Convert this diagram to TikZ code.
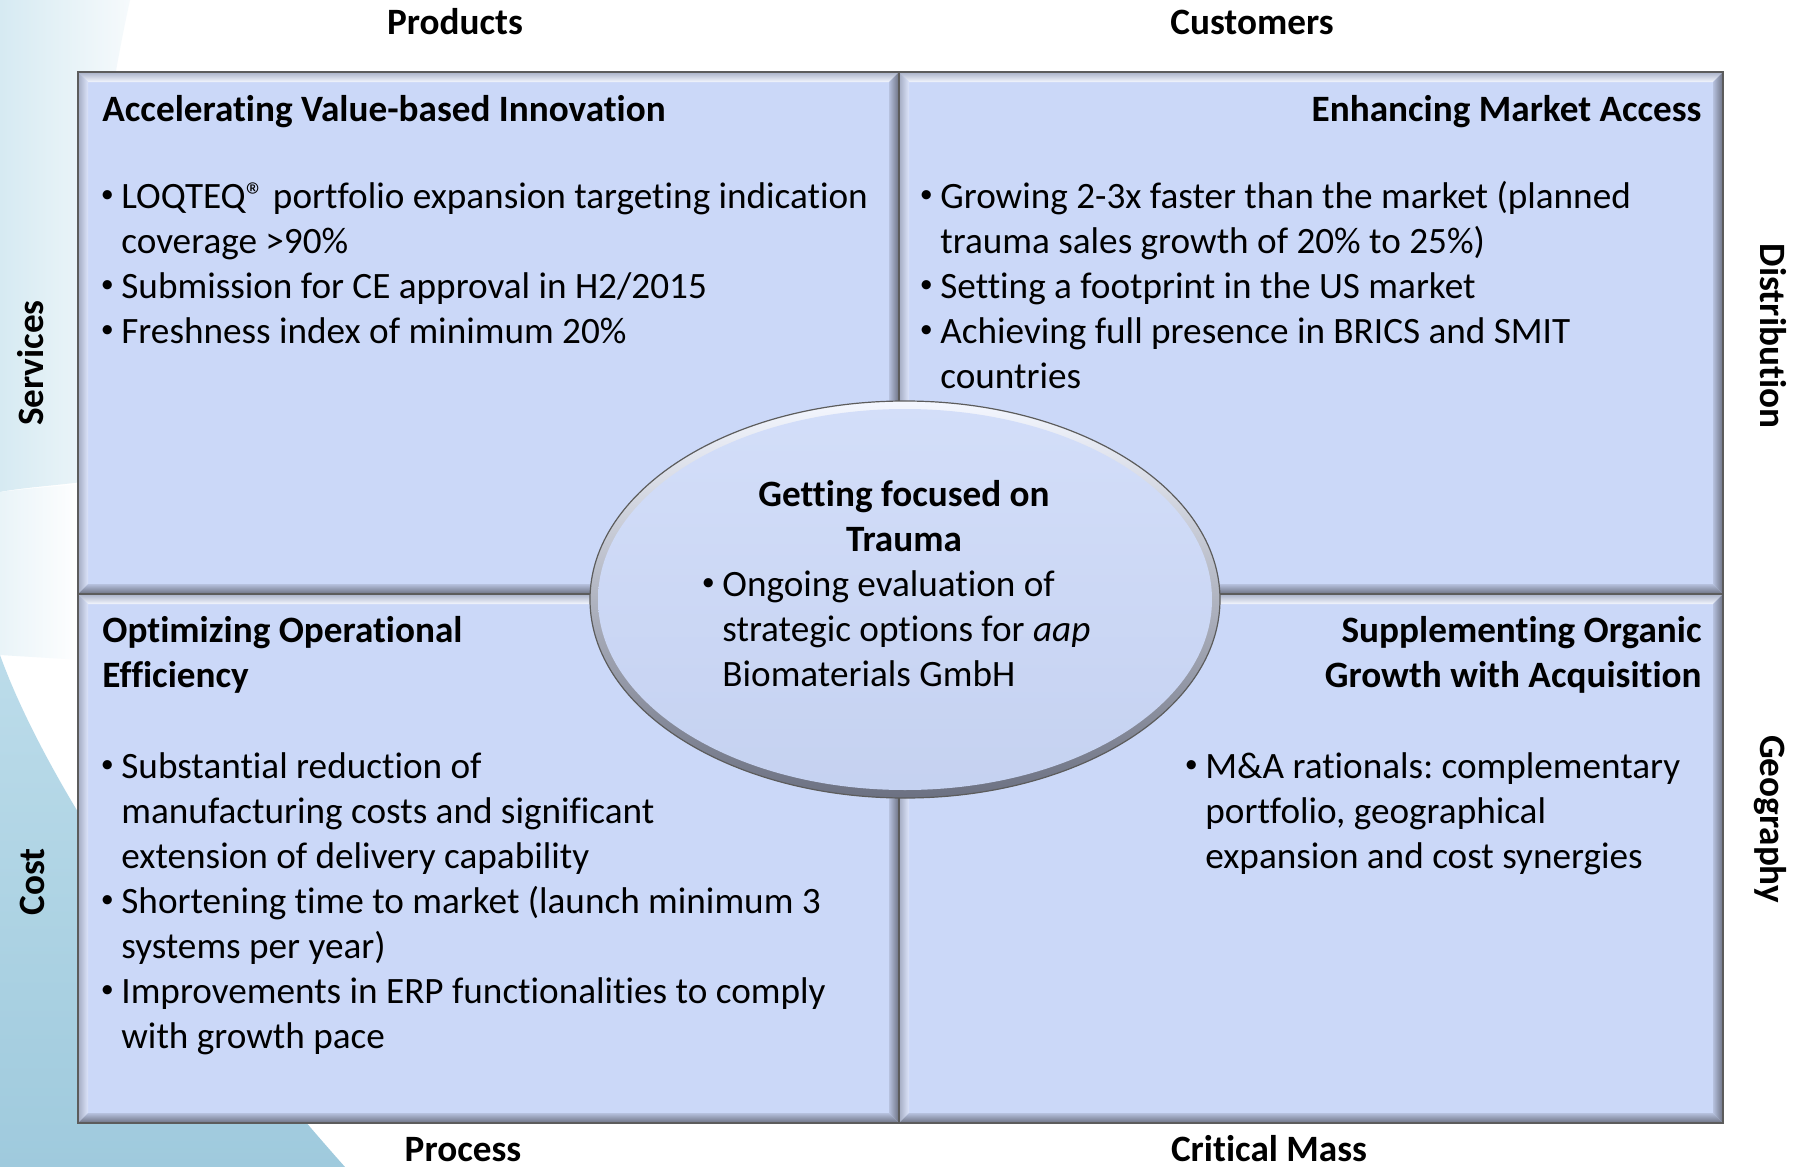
\documentclass[tikz,border=0pt]{standalone}
\usepackage{fontspec}
\usepackage{graphicx}
\setmainfont{Carlito}[Ligatures=NoCommon]
\frenchspacing
\usetikzlibrary{shapes.geometric}

\definecolor{boxfill}{HTML}{CBD8F8}
\definecolor{bvtopout}{HTML}{A9B1C8}
\definecolor{bvtopin}{HTML}{F4F7FF}
\definecolor{bvleftout}{HTML}{A3ABC2}
\definecolor{bvleftin}{HTML}{DDE5FB}
\definecolor{bvdarkin}{HTML}{B6C1DE}
\definecolor{bvdarkout}{HTML}{6C7182}
\definecolor{frame}{HTML}{5C5C5C}
\definecolor{palebg}{HTML}{D6EAF2}
\definecolor{paleend}{HTML}{F6FAFC}
\definecolor{bluebgA}{HTML}{BCDCEA}
\definecolor{bluebgB}{HTML}{9FCADD}

\newcommand\bodyfont{\fontsize{18.6pt}{22.5pt}\selectfont}
\newcommand\LL[1]{\vtop{\halign{##\hfil\cr#1\crcr}}}
\newcommand\RL[1]{\vtop{\halign{\hfil##\cr#1\crcr}}}
\newcommand\CL[1]{\vtop{\halign{\hfil##\hfil\cr#1\crcr}}}
\newcommand\bul{\llap{\makebox[14pt]{\raisebox{2.6pt}{\scalebox{0.7}{\textbullet}}}}}

\newcommand\bevelbox[4]{%
  \fill[boxfill] (#1,#2) rectangle (#3,#4);
  \shade[top color=bvtopout, bottom color=bvtopin]
    (#1,#2) -- (#3,#2) -- ({#3-10},{#2+10}) -- ({#1+10},{#2+10}) -- cycle;
  \shade[left color=bvleftout, right color=bvleftin]
    (#1,#2) -- ({#1+10},{#2+10}) -- ({#1+10},{#4-10}) -- (#1,#4) -- cycle;
  \shade[top color=bvdarkin, bottom color=bvdarkout]
    (#1,#4) -- ({#1+10},{#4-10}) -- ({#3-10},{#4-10}) -- (#3,#4) -- cycle;
  \shade[left color=bvdarkin, right color=bvdarkout]
    (#3,#2) -- (#3,#4) -- ({#3-10},{#4-10}) -- ({#3-10},{#2+10}) -- cycle;
  \draw[frame, line width=1pt] (#1,#2) rectangle (#3,#4);
}

\begin{document}
\begin{tikzpicture}[x=0.5pt,y=-0.5pt,
  body/.style={inner sep=0pt, font=\bodyfont, text=black},
  head/.style={inner sep=0pt, font=\bodyfont\bfseries, text=black},
  lbl/.style={inner sep=0pt, font=\bodyfont\bfseries, text=black}]
\useasboundingbox (0,0) rectangle (1796,1167);
\fill[white] (0,0) rectangle (1796,1167);

% background decoration
\shade[left color=palebg, right color=paleend]
  (0,0) -- (130,0) .. controls (95,160) and (84,320) .. (82,482)
  .. controls (50,486) and (20,488) .. (0,492) -- cycle;
\shade[left color=paleend!60!palebg, right color=white]
  (0,492) .. controls (30,488) and (60,486) .. (82,484) -- (82,660) -- (0,655) -- cycle;
\shade[top color=bluebgA, bottom color=bluebgB]
  (0,655) .. controls (45,780) and (170,970) .. (345,1167) -- (0,1167) -- cycle;

% quadrants
\bevelbox{78}{72}{899}{594}
\bevelbox{899}{72}{1723}{594}
\bevelbox{78}{594}{899}{1123}
\bevelbox{899}{594}{1723}{1123}

% centre ellipse
\node[ellipse, inner sep=0pt, minimum width=315pt, minimum height=198.5pt,
  draw=frame, line width=0.6pt, top color=bvtopin, bottom color=bvdarkout]
  (core) at (905,599.5) {};
\node[ellipse, inner sep=0pt, minimum width=307pt, minimum height=190.5pt,
  top color=boxfill!85!white, bottom color=boxfill!97!black]
  (coreface) at (core.center) {};

% axis labels
\node[lbl, anchor=base] (products) at (455,34) {Products};
\node[lbl, anchor=base] (customers) at (1252,34) {Customers};
\node[lbl, anchor=base] (process) at (463,1161) {Process};
\node[lbl, anchor=base] (critmass) at (1269,1161) {Critical Mass};
\node[lbl, anchor=base, rotate=90] (services) at (43,363) {Services};
\node[lbl, anchor=base, rotate=90] (cost) at (44,882) {Cost};
\node[lbl, anchor=base, rotate=-90] (distribution) at (1760,336) {Distribution};
\node[lbl, anchor=base, rotate=-90] (geography) at (1760,819) {Geography};

% top left
\node[head, anchor=base west] (tlhead) at (102,121) {Accelerating Value-based Innovation};
\node[body, anchor=base west] (tlbody) at (121,208) {\LL{%
  \bul LOQTEQ® portfolio expansion targeting indication\cr
  coverage >90\%\cr
  \bul Submission for CE approval in H2/2015\cr
  \bul Freshness index of minimum 20\%}};

% top right
\node[head, anchor=base east] (trhead) at (1702,121) {Enhancing Market Access};
\node[body, anchor=base west] (trbody) at (940,208) {\LL{%
  \bul Growing 2-3x faster than the market (planned\cr
  trauma sales growth of 20\% to 25\%)\cr
  \bul Setting a footprint in the US market\cr
  \bul Achieving full presence in BRICS and SMIT\cr
  countries}};

% bottom left
\node[head, anchor=base west] (blhead) at (102,642) {\LL{Optimizing Operational\cr Efficiency}};
\node[body, anchor=base west] (blbody) at (121,778) {\LL{%
  \bul Substantial reduction of\cr
  manufacturing costs and significant\cr
  extension of delivery capability\cr
  \bul Shortening time to market (launch minimum 3\cr
  systems per year)\cr
  \bul Improvements in ERP functionalities to comply\cr
  with growth pace}};

% bottom right
\node[head, anchor=base east] (brhead) at (1702,642) {\RL{Supplementing Organic\cr Growth with Acquisition}};
\node[body, anchor=base west] (brbody) at (1205,778) {\LL{%
  \bul M\&A rationals: complementary\cr
  portfolio, geographical\cr
  expansion and cost synergies}};

% centre text
\node[head, anchor=base] (corehead) at (904,506) {\CL{Getting focused on\cr Trauma}};
\node[body, anchor=base west] (corebody) at (722,596) {\LL{%
  \bul Ongoing evaluation of\cr
  strategic options for \textit{aap}\cr
  Biomaterials GmbH}};
\end{tikzpicture}
\end{document}
